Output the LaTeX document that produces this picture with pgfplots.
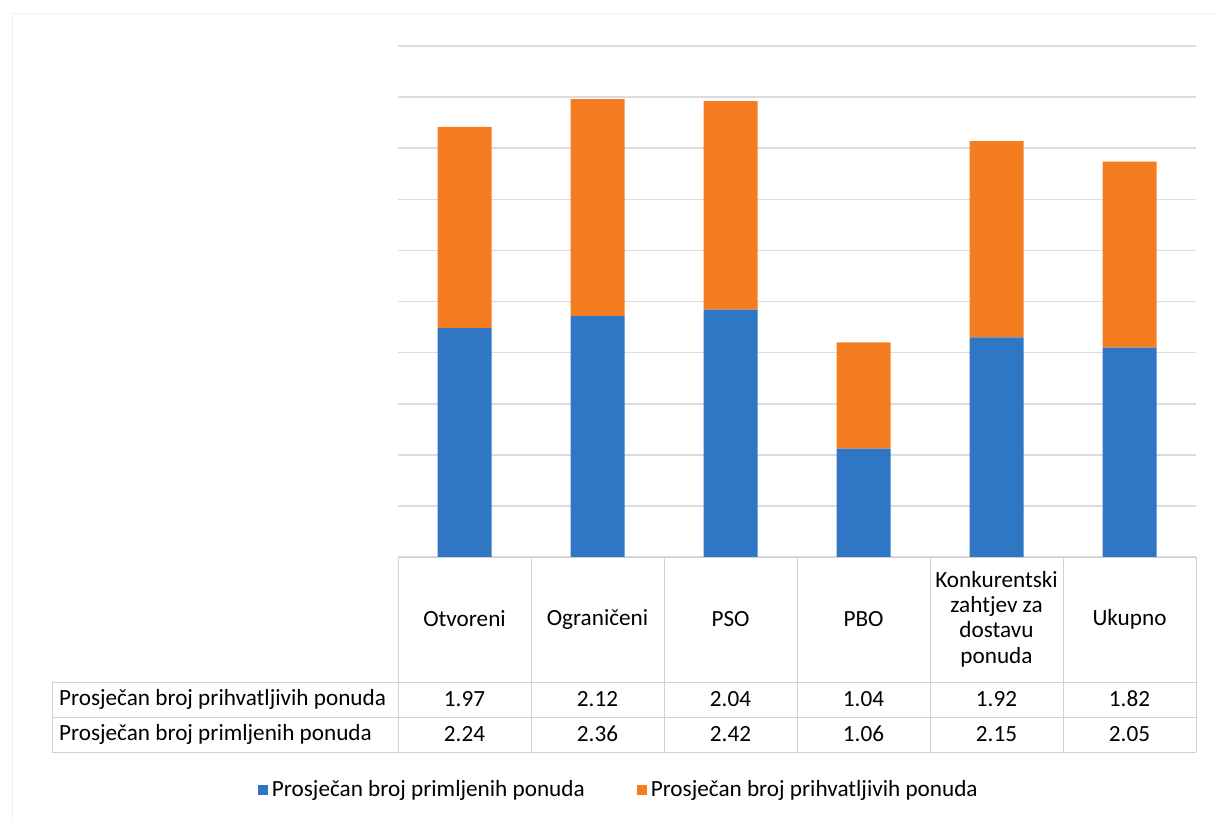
\documentclass[border=0pt]{standalone}
\usepackage{pgfplots}
\pgfplotsset{compat=1.18}
\usepackage{fontspec}
\setmainfont{Carlito}
\definecolor{barblue}{HTML}{2F76C4}
\definecolor{barorange}{HTML}{F47D22}
\definecolor{gridgray}{HTML}{DCDCDC}
\definecolor{tablegray}{HTML}{D0D0D0}
\newcommand{\fs}{\fontsize{11.6}{12.6}\selectfont}
\begin{document}
\begin{tikzpicture}
% canvas: 1 px of the reference = 0.5pt, origin at top left
\begin{scope}[x=0.5pt,y=-0.5pt]
  \path[use as bounding box] (0,0) rectangle (1215,821);
  \draw[gray!12] (12,821) -- (12,13) -- (1215,13);
\end{scope}

\begin{axis}[
    at={(199pt,-278.5pt)}, anchor=south west,
    scale only axis, width=399pt, height=255.5pt,
    xmin=-0.5, xmax=5.5, ymin=0, ymax=5,
    ybar stacked, bar width=27pt,
    xtick=\empty,
    ytick={0,0.5,...,5}, yticklabels={},
    major tick length=0pt,
    ymajorgrids=true,
    grid style={gridgray, line width=0.8pt},
    axis line style={draw=none},
    clip=false,
    legend columns=2,
    legend style={at={(0.278,-0.456)}, anchor=center, draw=none, fill=none,
        font=\fs, /tikz/every even column/.append style={column sep=24pt}},
    legend image code/.code={\fill[#1] (0pt,-2.5pt) rectangle (5pt,2.5pt);},
]
\addplot[fill=barblue, draw=none] coordinates {
    (0,2.24) (1,2.36) (2,2.42) (3,1.06) (4,2.15) (5,2.05)};
\addplot[fill=barorange, draw=none] coordinates {
    (0,1.97) (1,2.12) (2,2.04) (3,1.04) (4,1.92) (5,1.82)};
\legend{Prosječan broj primljenih ponuda, Prosječan broj prihvatljivih ponuda}
\end{axis}

% data table under the bars
\begin{scope}[x=0.5pt,y=-0.5pt]
  \draw[tablegray] (398,557) -- (1196,557);
  \foreach \yy in {682,717,752} \draw[tablegray] (52,\yy) -- (1196,\yy);
  \draw[tablegray] (52,682) -- (52,752);
  \foreach \xx in {398,531,664,797,930,1063,1196} \draw[tablegray] (\xx,557) -- (\xx,752);

  \foreach \i/\name in {0/Otvoreni,1/Ograničeni,2/PSO,3/PBO,5/Ukupno}
    \node[font=\fs] at ({464.5+133*\i},619) {\name};
  \node[font=\fs, align=center] at (996.5,619) {Konkurentski\\zahtjev za\\dostavu\\ponuda};

  \node[font=\fs, anchor=west] at (52,699) {Prosječan broj prihvatljivih ponuda};
  \node[font=\fs, anchor=west] at (52,734) {Prosječan broj primljenih ponuda};
  \foreach \i/\a/\b in {0/1.97/2.24,1/2.12/2.36,2/2.04/2.42,3/1.04/1.06,4/1.92/2.15,5/1.82/2.05} {
    \node[font=\fs] at ({464.5+133*\i},699) {\a};
    \node[font=\fs] at ({464.5+133*\i},734) {\b};
  }
\end{scope}
\end{tikzpicture}
\end{document}
